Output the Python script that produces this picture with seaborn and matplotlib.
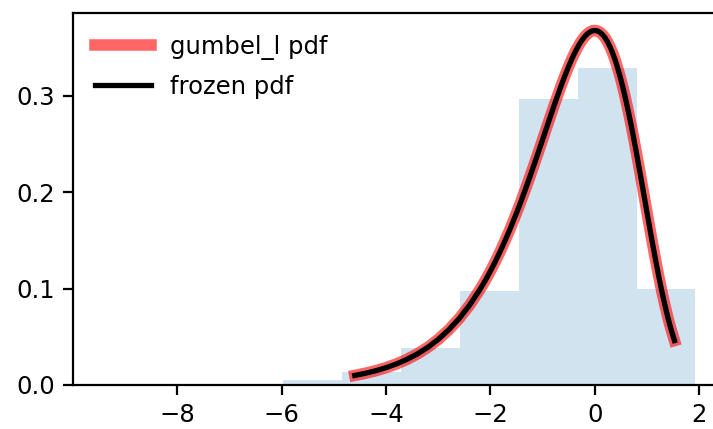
import numpy as np
import pandas as pd
import matplotlib
matplotlib.use("Agg")
import matplotlib.pyplot as plt
import seaborn as sns

# Histogram (density)
bin_edges = [-5.98, -4.85, -3.72, -2.59, -1.46, -0.33, 0.80, 1.93]
bin_heights = [0.0052, 0.0138, 0.038, 0.0976, 0.2966, 0.329, 0.0994]

# pdf curve points (gumbel_l pdf, between the 1% and 99% quantiles)
curve_x = [-4.60, -4.4, -4.2, -4.0, -3.8, -3.6, -3.4, -3.2, -3.0, -2.8, -2.6, -2.4,
           -2.2, -2.1, -2.0, -1.9, -1.8, -1.7, -1.65, -1.6, -1.5, -1.4, -1.35, -1.3,
           -1.25, -1.2, -1.15, -1.1, -1.05, -1.0, -0.95, -0.9, -0.85, -0.8, -0.75,
           -0.7, -0.65, -0.6, -0.55, -0.5, -0.45, -0.4, -0.35, -0.3, -0.25, -0.2,
           -0.15, -0.1, -0.05, 0.0, 0.05, 0.1, 0.15, 0.2, 0.25, 0.3, 0.35, 0.4, 0.45,
           0.5, 0.55, 0.6, 0.65, 0.7, 0.75, 0.8, 0.85, 0.9, 0.95, 1.0, 1.05, 1.1,
           1.15, 1.2, 1.25, 1.3, 1.35, 1.4, 1.45, 1.527]
curve_y = [0.00995, 0.01212, 0.01477, 0.0180, 0.02189, 0.0266, 0.03227, 0.0391, 0.04736,
           0.0572, 0.06894, 0.0828, 0.0992, 0.1083, 0.1182, 0.1288, 0.1401, 0.1522,
           0.1585, 0.1650, 0.1785, 0.1927, 0.2000, 0.2075, 0.2151, 0.2229, 0.2307,
           0.2386, 0.2466, 0.2546, 0.2627, 0.2707, 0.2788, 0.2867, 0.2945, 0.3022,
           0.3097, 0.3170, 0.3240, 0.3307, 0.3370, 0.3429, 0.3483, 0.3532, 0.3574,
           0.3611, 0.3640, 0.3661, 0.3675, 0.3679, 0.3674, 0.3660, 0.3635, 0.3601,
           0.3556, 0.3500, 0.3433, 0.3356, 0.3268, 0.3170, 0.3063, 0.2946, 0.2821,
           0.2688, 0.2549, 0.2404, 0.2255, 0.2102, 0.1948, 0.1794, 0.1640, 0.1489,
           0.1342, 0.1200, 0.1064, 0.0935, 0.0815, 0.0703, 0.0600, 0.0461]

W, H = 713, 429
fig = plt.figure(figsize=(W / 100, H / 100), dpi=100)
ax = fig.add_axes([73 / W, 44 / H, (720 - 73) / W, (385 - 13) / H])

centers = [(a + b) / 2 for a, b in zip(bin_edges[:-1], bin_edges[1:])]
hist_df = pd.DataFrame({"x": centers, "w": bin_heights})
sns.histplot(data=hist_df, x="x", weights="w", bins=bin_edges, stat="count",
             element="step", fill=True, alpha=0.2, linewidth=0, color="C0", ax=ax)

curve_df = pd.DataFrame({"x": curve_x, "y": curve_y})
sns.lineplot(data=curve_df, x="x", y="y", color="r", lw=8.3, alpha=0.6,
             label="gumbel_l pdf", ax=ax, sort=False)
sns.lineplot(data=curve_df, x="x", y="y", color="k", lw=3.8,
             label="frozen pdf", ax=ax, sort=False)

ax.set_xlim(-10.0, 2.4)
ax.set_ylim(0, 0.386)
ax.set_xticks([-8, -6, -4, -2, 0, 2])
ax.set_yticks([0.0, 0.1, 0.2, 0.3])
ax.set_xlabel("")
ax.set_ylabel("")
for s in ax.spines.values():
    s.set_linewidth(1.6)
ax.tick_params(labelsize=17.5, length=7, width=1.6, pad=6)
ax.legend(loc="upper left", frameon=False, fontsize=17.5, handlelength=2.3,
          labelspacing=0.62)

fig.savefig("out.png", dpi=100)
